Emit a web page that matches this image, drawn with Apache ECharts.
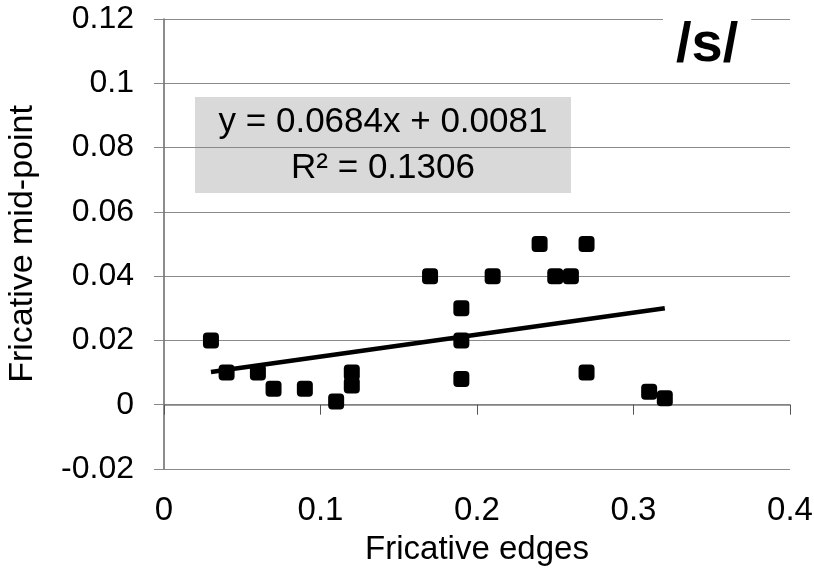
<!DOCTYPE html>
<html>
<head>
<meta charset="utf-8">
<script src="https://cdn.jsdelivr.net/npm/echarts@6/dist/echarts.min.js"></script>
<style>html,body{margin:0;padding:0;background:#fff;}#c{width:814px;height:568px;}</style>
</head>
<body>
<div id="c"></div>
<script>
const xValues = [0.03,0.04,0.06,0.07,0.09,0.11,0.12,0.12,0.17,0.19,0.19,0.19,0.21,0.24,0.25,0.26,0.27,0.27,0.31,0.32];
const yValues = [0.02,0.01,0.01,0.005,0.005,0.001,0.01,0.006,0.04,0.03,0.02,0.008,0.04,0.05,0.04,0.04,0.05,0.01,0.004,0.002];
const trendX = [0.03, 0.32];
const trendY = [0.0102, 0.0300];
const xTicks = [0, 0.1, 0.2, 0.3, 0.4];
const yTicks = [-0.02, 0, 0.02, 0.04, 0.06, 0.08, 0.1, 0.12];
const equationLines = ['y = 0.0684x + 0.0081', 'R² = 0.1306'];
const chartTitle = '/s/';
const xTitle = 'Fricative edges';
const yTitle = 'Fricative mid-point';

const FONT = 'Liberation Sans, Arial, sans-serif';
const chart = echarts.init(document.getElementById('c'), null, {renderer: 'canvas'});
const fmt = v => String(+(+v).toFixed(3));

chart.setOption({
  animation: false,
  backgroundColor: '#fff',
  title: {
    text: chartTitle,
    left: 663, top: 14,
    padding: [4, 13, 2, 13],
    backgroundColor: '#fff',
    textStyle: {fontFamily: FONT, fontSize: 56, fontWeight: 'bold', color: '#000'}
  },
  grid: {left: 164, right: 24, top: 19, bottom: 99, containLabel: false, outerBoundsMode: 'none'},
  xAxis: [
    {
      type: 'value', min: xTicks[0], max: xTicks[xTicks.length - 1], interval: 0.1,
      position: 'bottom',
      axisLine: {show: false, onZero: false},
      axisTick: {show: false},
      splitLine: {show: false},
      axisLabel: {margin: 25, fontFamily: FONT, fontSize: 33, color: '#000', formatter: fmt},
      name: xTitle, nameLocation: 'middle', nameGap: 64, nameMoveOverlap: false,
      nameTextStyle: {fontFamily: FONT, fontSize: 33, color: '#000'}
    },
    {
      type: 'value', min: xTicks[0], max: xTicks[xTicks.length - 1], interval: 0.1,
      position: 'bottom',
      axisLine: {show: true, onZero: true, lineStyle: {color: '#808080', width: 1.5}},
      axisTick: {show: true, inside: false, length: 10, lineStyle: {color: '#555', width: 1}},
      splitLine: {show: false},
      axisLabel: {show: false}
    }
  ],
  yAxis: {
    type: 'value', min: yTicks[0], max: yTicks[yTicks.length - 1], interval: 0.02,
    axisLine: {show: true, onZero: false, lineStyle: {color: '#666', width: 1.5}},
    axisTick: {show: true, length: 10, lineStyle: {color: '#888', width: 1}},
    splitLine: {show: true, lineStyle: {color: '#8a8a8a', width: 1}},
    axisLabel: {margin: 30, fontFamily: FONT, fontSize: 32, color: '#000', formatter: fmt},
    name: yTitle, nameLocation: 'middle', nameGap: 124, nameRotate: 90, nameMoveOverlap: false,
    nameTextStyle: {fontFamily: FONT, fontSize: 34, color: '#000'}
  },
  graphic: [
    {
      type: 'group', left: 195, top: 97, z: 100,
      children: [
        {type: 'rect', shape: {x: 0, y: 0, width: 376, height: 96}, style: {fill: '#d9d9d9'}},
        {type: 'text', x: 188, y: 48, style: {
          text: equationLines.join('\n'), fontFamily: FONT, fontSize: 35, lineHeight: 46,
          fill: '#000', align: 'center', verticalAlign: 'middle'}}
      ]
    }
  ],
  series: [
    {
      type: 'scatter', xAxisIndex: 0,
      data: xValues.map((x, i) => [x, yValues[i]]),
      symbol: 'roundRect', symbolSize: 16,
      itemStyle: {color: '#000', opacity: 1}, z: 3
    },
    {
      type: 'line', xAxisIndex: 0,
      data: trendX.map((x, i) => [x, trendY[i]]),
      showSymbol: false, symbol: 'none',
      lineStyle: {color: '#000', width: 4.5}, z: 4
    }
  ]
});
</script>
</body>
</html>
